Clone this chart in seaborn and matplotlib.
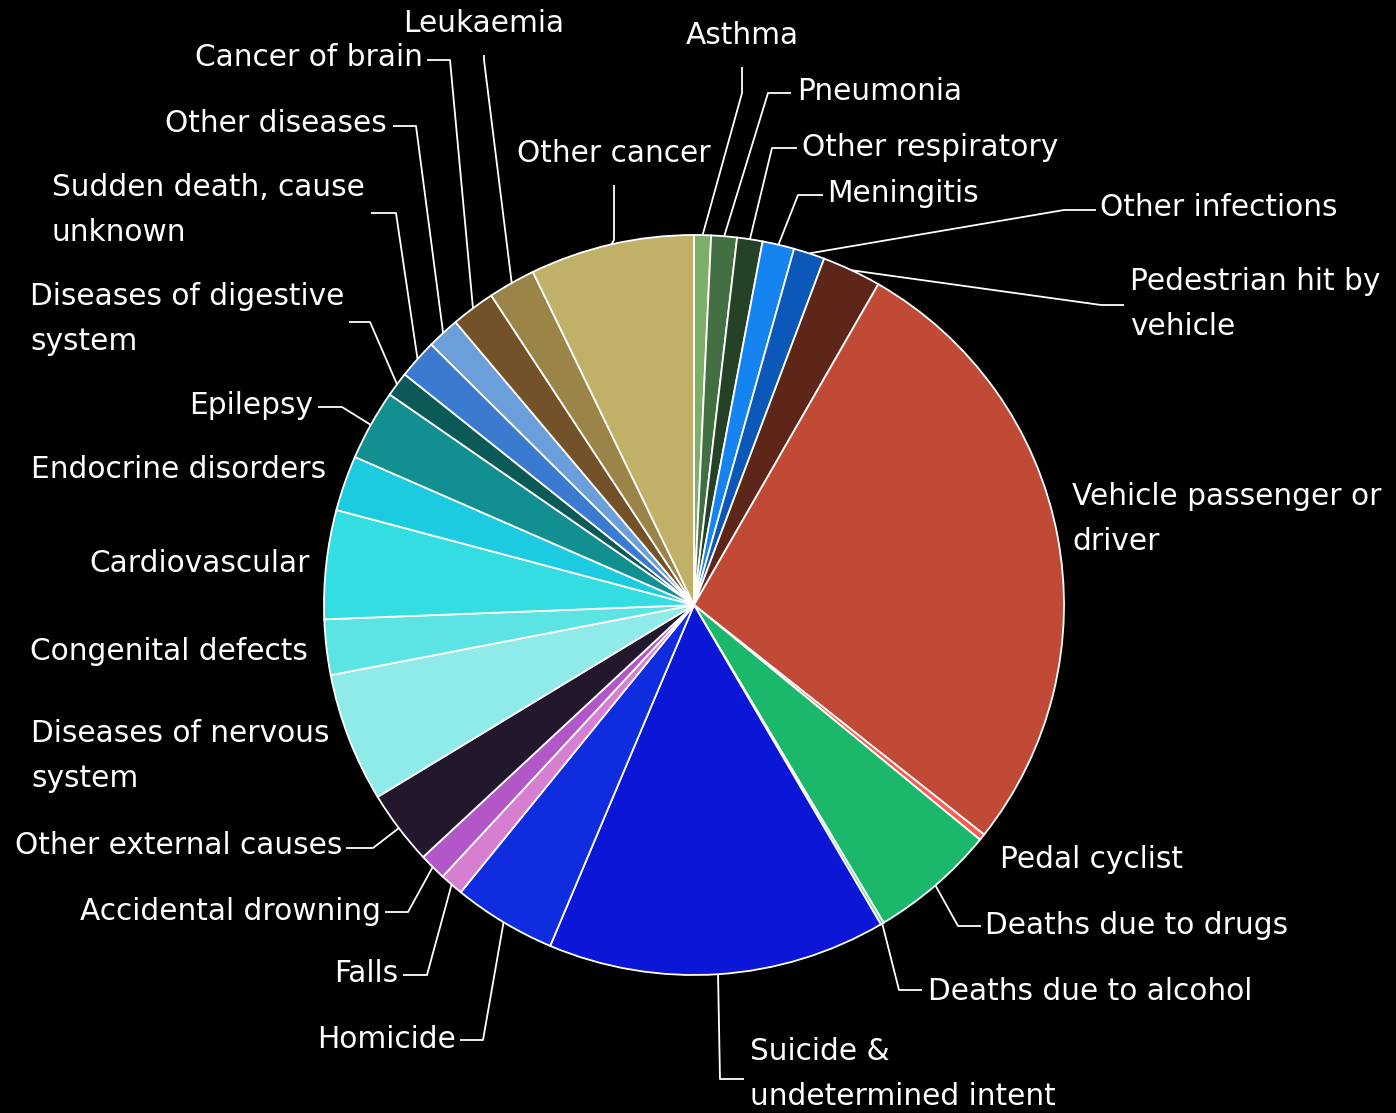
import matplotlib
matplotlib.use("Agg")
import matplotlib.pyplot as plt
import seaborn as sns
import numpy as np

# Share of deaths by cause (%), listed clockwise from 12 o'clock
causes = [
    "Asthma", "Pneumonia", "Other respiratory", "Meningitis", "Other infections",
    "Pedestrian hit by\nvehicle", "Vehicle passenger or\ndriver", "Pedal cyclist",
    "Deaths due to drugs", "Deaths due to alcohol", "Suicide &\nundetermined intent",
    "Homicide", "Falls", "Accidental drowning", "Other external causes",
    "Diseases of nervous\nsystem", "Congenital defects", "Cardiovascular",
    "Endocrine disorders", "Epilepsy", "Diseases of digestive\nsystem",
    "Sudden death, cause\nunknown", "Other diseases", "Cancer of brain",
    "Leukaemia", "Other cancer",
]
shares = [
    0.74, 1.12, 1.11, 1.39, 1.36,
    2.58, 27.36, 0.28,
    5.50, 0.14, 14.78,
    4.50, 1.03, 1.19, 3.25,
    5.64, 2.42, 4.75,
    2.42, 3.08, 1.08,
    1.72, 1.42, 1.92,
    2.06, 7.17,
]
slice_colors = [
    "#7daf6a", "#437043", "#254227", "#1583f0", "#0c58b8",
    "#5e2618", "#c04a36", "#ff5a50",
    "#1bb86b", "#62d08f", "#0b16d6",
    "#0f2ddf", "#d67fd1", "#b356c8", "#23172e",
    "#8eebe9", "#5ce3e3", "#33dde2",
    "#1ccbe0", "#128f91", "#0b5a58",
    "#3a7bd0", "#6a9fdb", "#73522a",
    "#9b8447", "#c1b067",
]

W, H = 1396, 1113
CX, CY, R = 694, 605, 370

sns.set_theme(style="white", rc={"figure.facecolor": "black", "axes.facecolor": "black"})
plt.rcParams["font.family"] = ["DejaVu Sans"]
palette = sns.color_palette(slice_colors)

fig = plt.figure(figsize=(W / 100, H / 100), dpi=100, facecolor="black")
ax = fig.add_axes([0, 0, 1, 1])
ax.set_facecolor("black")

wedges, _ = ax.pie(
    shares, colors=palette, startangle=90, counterclock=False,
    center=(CX, H - CY), radius=R,
    wedgeprops=dict(edgecolor="white", linewidth=1.3),
)
ax.set_xlim(0, W)
ax.set_ylim(0, H)
ax.set_aspect("equal")
ax.axis("off")

# label layout in pixel units from the top-left corner:
# (text x, text y, alignment, elbow point, segment end) ; None = no leader line
layout = {
    "Asthma": (742, 36, "center", (742, 93), (742, 67)),
    "Pneumonia": (797, 92, "left", (768, 93), (791, 93)),
    "Other respiratory": (802, 147, "left", (772, 148), (797, 148)),
    "Meningitis": (827, 194, "left", (798, 195), (823, 195)),
    "Other infections": (1100, 208, "left", (1064, 210), (1096, 210)),
    "Pedestrian hit by\nvehicle": (1130, 304, "left", (1101, 305), (1124, 305)),
    "Vehicle passenger or\ndriver": (1072, 519, "left", None, None),
    "Pedal cyclist": (1000, 859, "left", None, None),
    "Deaths due to drugs": (985, 926, "left", (958, 926), (981, 926)),
    "Deaths due to alcohol": (928, 991, "left", (899, 990), (922, 990)),
    "Suicide &\nundetermined intent": (750, 1074, "left", (720, 1079), (744, 1079)),
    "Homicide": (456, 1040, "right", (483, 1040), (460, 1040)),
    "Falls": (398, 974, "right", (427, 975), (403, 975)),
    "Accidental drowning": (381, 911, "right", (408, 912), (385, 912)),
    "Other external causes": (342, 846, "right", (373, 848), (346, 848)),
    "Diseases of nervous\nsystem": (31, 756, "left", None, None),
    "Congenital defects": (308, 652, "right", None, None),
    "Cardiovascular": (310, 564, "right", None, None),
    "Endocrine disorders": (326, 470, "right", None, None),
    "Epilepsy": (313, 406, "right", (342, 407), (318, 407)),
    "Diseases of digestive\nsystem": (30, 319, "left", (370, 322), (349, 322)),
    "Sudden death, cause\nunknown": (52, 210, "left", (396, 213), (371, 213)),
    "Other diseases": (387, 124, "right", (416, 126), (393, 126)),
    "Cancer of brain": (423, 58, "right", (450, 60), (427, 60)),
    "Leukaemia": (484, 23, "center", (484, 60), (484, 55)),
    "Other cancer": (614, 154, "center", (614, 240), (614, 185)),
}

for wedge, name in zip(wedges, causes):
    tx, ty, ha, elbow, end = layout[name]
    ax.text(tx, H - ty, name, color="white", fontsize=21.3, ha=ha, va="center",
            multialignment="left", linespacing=1.66)
    if elbow is not None:
        mid = np.deg2rad((wedge.theta1 + wedge.theta2) / 2)
        rx = CX + R * np.cos(mid)
        ry = (H - CY) + R * np.sin(mid)
        ax.plot([rx, elbow[0], end[0]], [ry, H - elbow[1], H - end[1]],
                color="white", linewidth=1.3, solid_capstyle="butt")

fig.savefig("out.png", dpi=100, facecolor="black")
